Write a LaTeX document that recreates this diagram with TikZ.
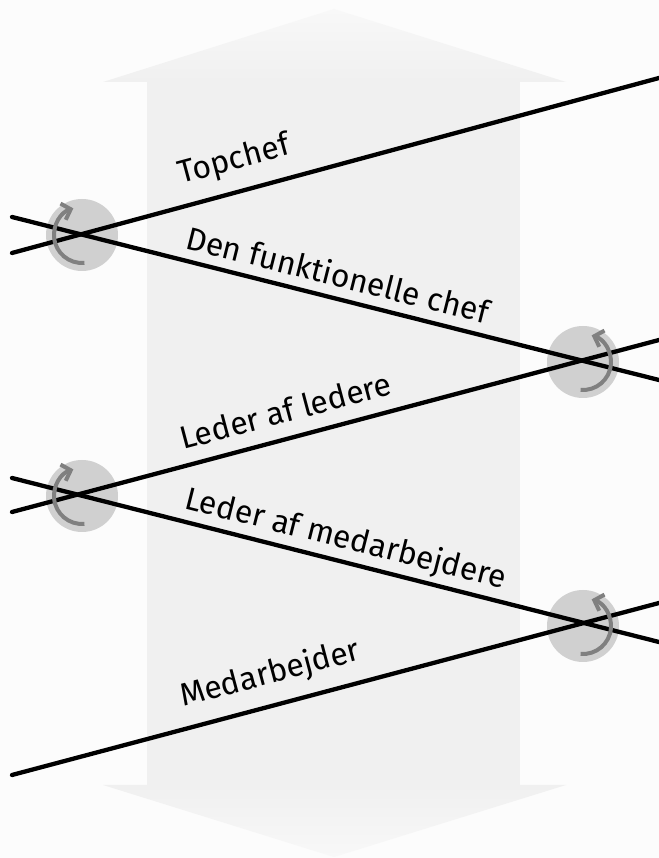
\documentclass[tikz,border=0pt]{standalone}
\usepackage{fontspec}
\setmainfont{Fira Sans}
\usetikzlibrary{arrows.meta}
\definecolor{bggray}{HTML}{FCFCFC}
\definecolor{pilgray}{HTML}{F0F0F0}
\definecolor{piltop}{HTML}{F8F8F8}
\definecolor{circlegray}{HTML}{D0D0D0}
\definecolor{turngray}{HTML}{808080}

\begin{document}
\begin{tikzpicture}[x=1bp, y=1bp,
    level/.style={line width=4.3bp, line cap=round},
    crossing/.style={circle, fill=circlegray, minimum size=72bp, inner sep=0pt},
    turn/.style={draw=turngray, line width=4bp, >={Straight Barb[length=8bp, width=17bp]}, ->},
    levellabel/.style={font=\fontsize{32}{34}\selectfont, anchor=base west, inner sep=0pt}]
  \fill[bggray] (0,0) rectangle (659,858);
  \useasboundingbox (0,0) rectangle (659,858);

  % Pil
  \fill[pilgray] (147,73) rectangle (520,776);
  \shade[top color=piltop, bottom color=pilgray] (103,776) -- (334,849) -- (566,776) -- cycle;
  \shade[top color=pilgray, bottom color=piltop] (103,73) -- (566,73) -- (334,1) -- cycle;

  % Knuder
  \coordinate (l1s) at (12,605);
  \coordinate (l1e) at (659,780);
  \coordinate (l2s) at (12,641);
  \coordinate (l2e) at (659,478);
  \coordinate (l3s) at (12,346);
  \coordinate (l3e) at (659,518);
  \coordinate (l4s) at (12,380);
  \coordinate (l4e) at (659,216);
  \coordinate (l5s) at (12,83);
  \coordinate (l5e) at (659,255);

  \node[crossing] (c1) at (82,623) {};
  \node[crossing] (c2) at (583,496) {};
  \node[crossing] (c3) at (82,362) {};
  \node[crossing] (c4) at (583,232) {};

  % Linjer
  \draw[level] (l1s) -- (l1e);
  \draw[level] (l2s) -- (l2e);
  \draw[level] (l3s) -- (l3e);
  \draw[level] (l4s) -- (l4e);
  \draw[level] (l5s) -- (l5e);

  % Pile
  \draw[turn] ([shift={(275:28)}]c1.center) arc[start angle=275, end angle=108, radius=28];
  \draw[turn] ([shift={(-95:28)}]c2.center) arc[start angle=-95, end angle=72, radius=28];
  \draw[turn] ([shift={(275:28)}]c3.center) arc[start angle=275, end angle=108, radius=28];
  \draw[turn] ([shift={(-95:28)}]c4.center) arc[start angle=-95, end angle=72, radius=28];

  % Tekster
  \node[levellabel, rotate=15.1] (topchef) at (181,674) {Topchef};
  \node[levellabel, rotate=-14.1] (funkchef) at (184,610) {Den funktionelle chef};
  \node[levellabel, rotate=14.9] (lederled) at (183,408) {Leder af ledere};
  \node[levellabel, rotate=-14.2] (ledermed) at (183,350) {Leder af medarbejdere};
  \node[levellabel, rotate=14.9] (medarb) at (183,151) {Medarbejder};
\end{tikzpicture}
\end{document}
